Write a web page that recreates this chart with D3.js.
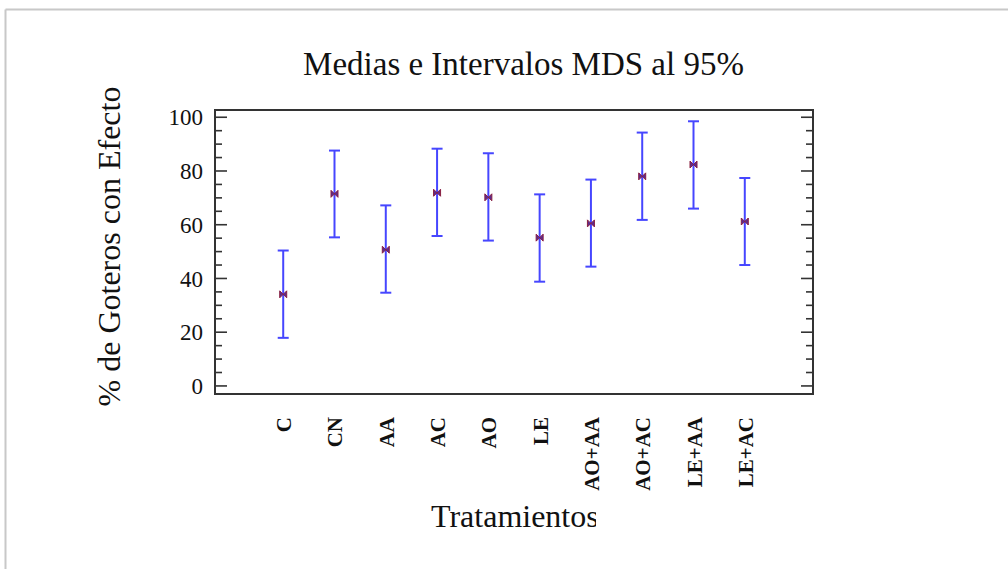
<!DOCTYPE html>
<html><head><meta charset="utf-8">
<script src="https://cdn.jsdelivr.net/npm/d3@7"></script>
<style>html,body{margin:0;padding:0;background:#fff;}svg{display:block;}</style>
</head><body>
<script>
const categories = ["C","CN","AA","AC","AO","LE","AO+AA","AO+AC","LE+AA","LE+AC"];
const means = [34.1, 71.5, 50.7, 71.9, 70.2, 55.2, 60.5, 78.0, 82.4, 61.2];
const lower = [17.9, 55.3, 34.7, 55.8, 54.1, 38.8, 44.4, 61.8, 66.0, 45.0];
const upper = [50.4, 87.6, 67.2, 88.3, 86.6, 71.3, 76.8, 94.3, 98.5, 77.4];
const yTicks = [0, 20, 40, 60, 80, 100];
const yMinorTicks = d3.range(0, 101, 5);
const title = "Medias e Intervalos MDS al 95%";
const xTitle = "Tratamientos";
const yTitle = "% de Goteros con Efecto";

const W = 1008, H = 569;
const svg = d3.select("body").append("svg").attr("width", W).attr("height", H);

// outer frame (top & left gray edges)
svg.append("line").attr("x1",5.5).attr("x2",W).attr("y1",9.5).attr("y2",9.5).attr("stroke","#c8c8c8").attr("stroke-width",2);
svg.append("line").attr("x1",5.5).attr("x2",5.5).attr("y1",9.5).attr("y2",H).attr("stroke","#c8c8c8").attr("stroke-width",2);

const L = 215, R = 813, T = 110, B = 394;
const x = d3.scalePoint().domain(categories).range([L, R]).padding(1.33);
const y = d3.scaleLinear().domain([-3, 102.7]).range([B, T]);

const font = "'Liberation Serif','Times New Roman',serif";

// ticks left and right (inside)
const g = svg.append("g");
yMinorTicks.forEach(v => {
  const major = v % 20 === 0;
  const len = major ? 12 : 7;
  g.append("line").attr("x1",L).attr("x2",L+len).attr("y1",y(v)).attr("y2",y(v)).attr("stroke","#333").attr("stroke-width",1.6);
  g.append("line").attr("x1",R).attr("x2",R-len).attr("y1",y(v)).attr("y2",y(v)).attr("stroke","#333").attr("stroke-width",1.6);
});
yTicks.forEach(v => {
  g.append("text").attr("x", L-12).attr("y", y(v)).attr("dy","0.35em").attr("text-anchor","end")
    .attr("font-family",font).attr("font-size",23).attr("fill","#111").text(v);
});

// box
svg.append("rect").attr("x",L).attr("y",T).attr("width",R-L).attr("height",B-T)
  .attr("fill","none").attr("stroke","#333").attr("stroke-width",2);

// error bars
const col = "#4646ff";
const bars = svg.append("g").selectAll("g").data(categories).join("g");
bars.append("line").attr("x1",d=>x(d)).attr("x2",d=>x(d)).attr("y1",(d,i)=>y(lower[i])).attr("y2",(d,i)=>y(upper[i])).attr("stroke",col).attr("stroke-width",2);
bars.append("line").attr("x1",d=>x(d)-5.5).attr("x2",d=>x(d)+5.5).attr("y1",(d,i)=>y(lower[i])).attr("y2",(d,i)=>y(lower[i])).attr("stroke",col).attr("stroke-width",2);
bars.append("line").attr("x1",d=>x(d)-5.5).attr("x2",d=>x(d)+5.5).attr("y1",(d,i)=>y(upper[i])).attr("y2",(d,i)=>y(upper[i])).attr("stroke",col).attr("stroke-width",2);
// mean markers (bowtie)
bars.append("path").attr("transform",(d,i)=>`translate(${x(d)},${y(means[i])})`)
  .attr("d","M-3.5,-3.5 L3.5,3.5 L3.5,-3.5 L-3.5,3.5 Z").attr("fill","#5a2a90").attr("stroke","#8a2040").attr("stroke-width",1);

// x labels
svg.append("g").selectAll("text").data(categories).join("text")
  .attr("transform", d=>`translate(${x(d)+8},417) rotate(-90)`)
  .attr("text-anchor","end").attr("font-family",font).attr("font-weight","bold").attr("font-size",21).attr("fill","#111")
  .text(d=>d);

// titles
svg.append("text").attr("x",523.5).attr("y",75).attr("text-anchor","middle").attr("font-family",font).attr("font-size",33).attr("fill","#111").text(title);
svg.append("clipPath").attr("id","xt").append("rect").attr("x",0).attr("y",0).attr("width",596).attr("height",H);
svg.append("text").attr("x",431).attr("y",527).attr("text-anchor","start").attr("clip-path","url(#xt)").attr("font-family",font).attr("font-size",32).attr("fill","#111").text(xTitle);
svg.append("text").attr("transform","translate(120,246.5) rotate(-90)").attr("text-anchor","middle").attr("font-family",font).attr("font-size",32).attr("fill","#111").text(yTitle);
</script>
</body></html>
